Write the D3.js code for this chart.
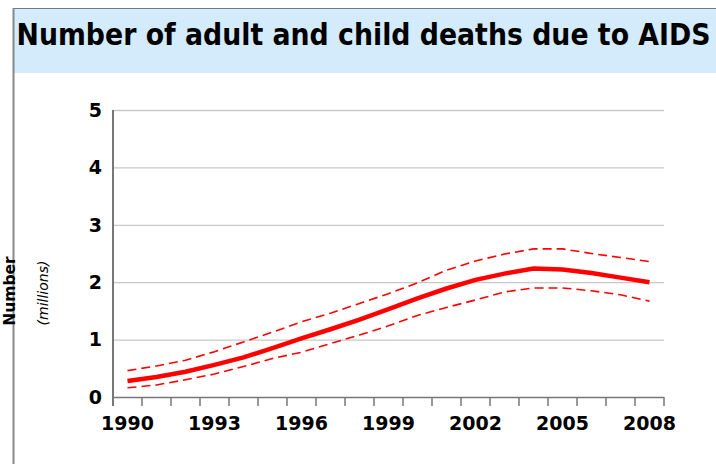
<!DOCTYPE html>
<html>
<head>
<meta charset="utf-8">
<title>AIDS deaths</title>
<script src="https://cdn.jsdelivr.net/npm/d3@7/dist/d3.min.js"></script>
<style>
  body { margin: 0; background: #fff; }
  svg { display: block; }
</style>
</head>
<body>
<svg id="chart" width="716" height="464"></svg>
<script>
// data (millions)
var years = [1990,1991,1992,1993,1994,1995,1996,1997,1998,1999,2000,2001,2002,2003,2004,2005,2006,2007,2008];
var estimate = [0.28,0.35,0.44,0.56,0.69,0.85,1.02,1.18,1.35,1.53,1.72,1.89,2.04,2.15,2.24,2.22,2.16,2.08,2.00];
var upperBound = [0.46,0.54,0.64,0.79,0.96,1.13,1.31,1.46,1.63,1.80,1.99,2.21,2.37,2.49,2.58,2.58,2.50,2.43,2.36];
var lowerBound = [0.16,0.21,0.30,0.40,0.53,0.67,0.78,0.93,1.08,1.24,1.42,1.56,1.69,1.83,1.90,1.90,1.85,1.78,1.67];
var yTicks = [0,1,2,3,4,5];
var xLabels = [1990,1993,1996,1999,2002,2005,2008];
var title = "Number of adult and child deaths due to AIDS";

var svg = d3.select("#chart");

// title panel
svg.append("rect")
  .attr("x", 14).attr("y", 9)
  .attr("width", 702).attr("height", 64)
  .attr("fill", "#d3ebfb");
svg.append("line")
  .attr("x1", 13).attr("x2", 716).attr("y1", 8.5).attr("y2", 8.5)
  .attr("stroke", "#777").attr("stroke-width", 1);
svg.append("line")
  .attr("x1", 13.5).attr("x2", 13.5).attr("y1", 8).attr("y2", 464)
  .attr("stroke", "#888").attr("stroke-width", 2);
svg.append("text")
  .attr("x", 16.5).attr("y", 45)
  .attr("textLength", 694).attr("lengthAdjust", "spacingAndGlyphs")
  .style("font-family", "'Liberation Sans Narrow', 'DejaVu Sans Condensed', sans-serif")
  .style("font-weight", "bold").style("font-size", "31px")
  .attr("fill", "#000")
  .text(title);

// plot area
var plotL = 113, plotR = 664, plotT = 110, plotB = 397;

var x = d3.scaleBand().domain(years).range([plotL, plotR]);
var y = d3.scaleLinear().domain([0, 5]).range([plotB, plotT]);
var cx = function(yr) { return x(yr) + x.bandwidth() / 2; };

// grid lines
svg.append("g").selectAll("line")
  .data(yTicks.filter(function(d) { return d > 0; }))
  .enter().append("line")
  .attr("x1", plotL).attr("x2", plotR)
  .attr("y1", function(d) { return y(d) + 0.5; })
  .attr("y2", function(d) { return y(d) + 0.5; })
  .attr("stroke", "#c8c8c8").attr("stroke-width", 1.3);

// y axis line + labels
svg.append("line")
  .attr("x1", plotL).attr("x2", plotL).attr("y1", plotT).attr("y2", plotB + 9)
  .attr("stroke", "#777").attr("stroke-width", 2);
svg.append("g").selectAll("text")
  .data(yTicks).enter().append("text")
  .attr("x", 102)
  .attr("y", function(d) { return y(d); })
  .attr("dy", "0.36em")
  .attr("text-anchor", "end")
  .style("font-family", "'DejaVu Sans', sans-serif")
  .style("font-weight", "bold").style("font-size", "19px")
  .text(function(d) { return d; });

// x axis: line, ticks at band edges, labels at band centers
svg.append("line")
  .attr("x1", plotL).attr("x2", plotR).attr("y1", plotB + 0.5).attr("y2", plotB + 0.5)
  .attr("stroke", "#777").attr("stroke-width", 1.5);
svg.append("g").selectAll("line")
  .data(years).enter().append("line")
  .attr("x1", function(d) { return x(d) + x.bandwidth(); })
  .attr("x2", function(d) { return x(d) + x.bandwidth(); })
  .attr("y1", plotB).attr("y2", plotB + 9)
  .attr("stroke", "#777").attr("stroke-width", 1.5);
svg.append("g").selectAll("text")
  .data(xLabels).enter().append("text")
  .attr("x", function(d) { return cx(d); })
  .attr("y", 430)
  .attr("text-anchor", "middle")
  .style("font-family", "'DejaVu Sans', sans-serif")
  .style("font-weight", "bold").style("font-size", "19px")
  .text(function(d) { return d; });

// axis titles
svg.append("text")
  .attr("transform", "translate(15,291) rotate(-90)")
  .attr("text-anchor", "middle")
  .style("font-family", "'DejaVu Sans', sans-serif")
  .style("font-weight", "bold").style("font-size", "15.5px")
  .text("Number");
svg.append("text")
  .attr("transform", "translate(48,293) rotate(-90)")
  .attr("text-anchor", "middle")
  .style("font-family", "'DejaVu Sans', sans-serif")
  .style("font-style", "italic").style("font-size", "14px")
  .text("(millions)");

// lines
var line = d3.line()
  .x(function(d) { return cx(d[0]); })
  .y(function(d) { return y(d[1]); });

function series(vals) { return years.map(function(yr, i) { return [yr, vals[i]]; }); }

[upperBound, lowerBound].forEach(function(vals) {
  svg.append("path")
    .datum(series(vals))
    .attr("d", line)
    .attr("fill", "none")
    .attr("stroke", "#ff0000")
    .attr("stroke-width", 1.6)
    .attr("stroke-dasharray", "9,5");
});
svg.append("path")
  .datum(series(estimate))
  .attr("d", line)
  .attr("fill", "none")
  .attr("stroke", "#ff0000")
  .attr("stroke-width", 4.5);
</script>
</body>
</html>
